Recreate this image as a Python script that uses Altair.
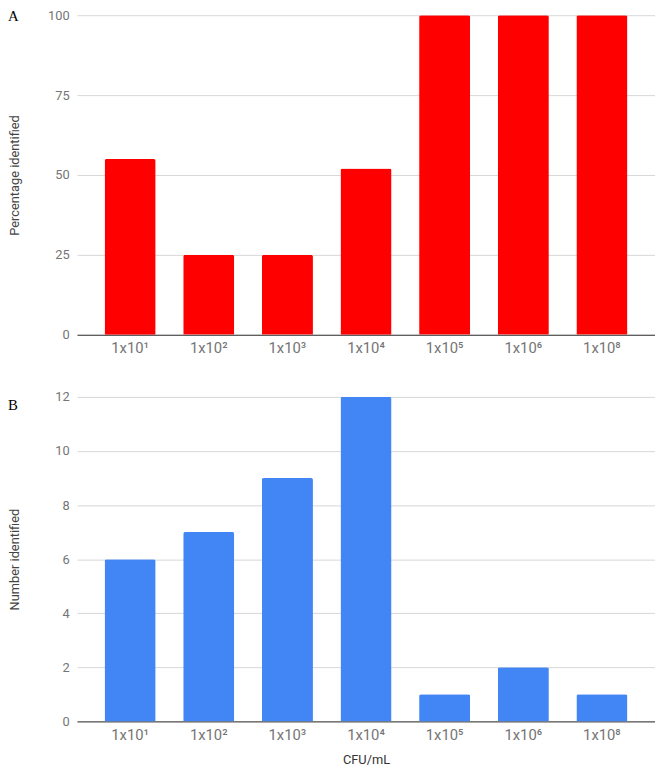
import altair as alt
import pandas as pd

categories = ["1x10¹", "1x10²", "1x10³", "1x10⁴", "1x10⁵", "1x10⁶", "1x10⁸"]
percentage_identified = [55, 25, 25, 52, 100, 100, 100]
number_identified = [6, 7, 9, 12, 1, 2, 1]
ticks_a = [0, 25, 50, 75, 100]
ticks_b = [0, 2, 4, 6, 8, 10, 12]

df_a = pd.DataFrame({"cfu": categories, "value": percentage_identified})
df_b = pd.DataFrame({"cfu": categories, "value": number_identified})

W = 586


def panel(df, color, ticks, ytitle, letter, letter_y, height, xtitle):
    bars = alt.Chart(df).mark_bar(
        color=color, cornerRadiusTopLeft=2, cornerRadiusTopRight=2
    ).encode(
        x=alt.X(
            "cfu:N",
            sort=categories,
            scale=alt.Scale(paddingInner=0.35, paddingOuter=0.35),
            axis=alt.Axis(
                title=xtitle,
                labelAngle=0,
                labelPadding=6,
                labelFontSize=15,
                ticks=False,
                domain=True,
                domainColor="#333333",
                domainWidth=1,
                grid=False,
                titlePadding=12,
                titleFontSize=13,
                titleColor="#333333",
            ),
        ),
        y=alt.Y(
            "value:Q",
            scale=alt.Scale(domain=[ticks[0], ticks[-1]], nice=False),
            axis=alt.Axis(
                values=ticks,
                title=ytitle,
                ticks=False,
                domain=False,
                labelPadding=8,
                labelFontSize=13,
                gridColor="#d6d6d6",
                titleX=-56,
                titleY=height / 2,
                titleFontSize=13,
                titleColor="#444444",
            ),
        ),
    )
    label = alt.Chart(pd.DataFrame({"t": [letter]})).mark_text(
        font="Liberation Serif", fontSize=15, align="left", baseline="middle", color="#000000"
    ).encode(x=alt.value(-70), y=alt.value(letter_y), text="t:N")
    return alt.layer(bars, label).properties(width=W, height=height)


chart_a = panel(df_a, "#ff0000", ticks_a, "Percentage identified", "A", 1, 324, "")
chart_b = panel(df_b, "#4285f4", ticks_b, "Number identified", "B", 8, 329, "CFU/mL")

chart = alt.vconcat(chart_a, chart_b, spacing=36).properties(
    padding={"top": -4, "left": 0, "right": 0, "bottom": 0}
).configure_view(stroke=None).configure_axis(
    labelFont="Roboto",
    titleFont="Roboto",
    labelColor="#757575",
    titleFontWeight="normal",
)

chart.save("out.html", embed_options={"renderer": "svg", "actions": False})
